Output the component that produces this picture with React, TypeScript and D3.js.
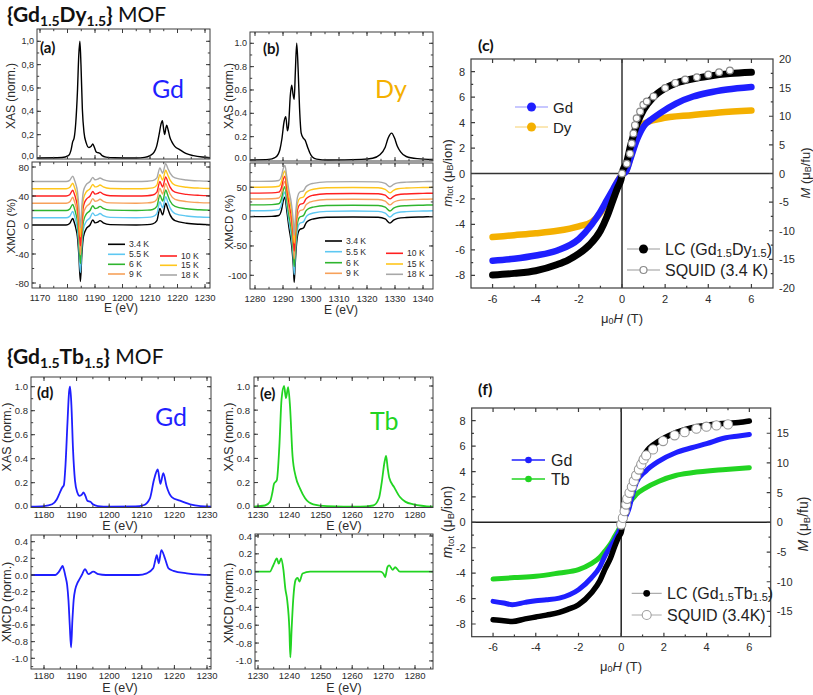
import React from "react";
import * as d3 from "d3";

const SANS = "'Liberation Sans', Arial, sans-serif";
const CAL = "Lato, 'Open Sans', sans-serif";
const INK = "#2b2b2b";

type P = [number, number];

// ---------------- data ----------------
const tempLabels = ["3.4 K", "5.5 K", "6 K", "9 K", "10 K", "15 K", "18 K"];
const tempColors = ["#000000", "#5ec8f2", "#2fb52f", "#f7a15a", "#ff2020", "#ffc61c", "#a8a8a8"];
const tempOffsets = [0, 10, 20, 30, 40, 50, 60];
const tempAmplitudes = [1, 0.97, 0.94, 0.91, 0.88, 0.85, 0.82];

// (a) Gd edge in {Gd1.5Dy1.5}
const gdDyXas: P[] = [[1167,0],[1178,0.004],[1180.3,0.02],[1181.3,0.07],[1181.9,0.14],[1182.4,0.17],[1183.0,0.3],[1183.6,0.56],[1184.1,0.88],[1184.5,1.0],[1184.9,0.8],[1185.4,0.42],[1186.0,0.22],[1186.8,0.13],[1187.8,0.09],[1188.6,0.1],[1189.2,0.12],[1189.8,0.09],[1190.5,0.05],[1191.2,0.045],[1191.8,0.04],[1192.6,0.02],[1194,0.008],[1197,0.002],[1205,0],[1208,0.005],[1210,0.02],[1211.5,0.05],[1212.4,0.1],[1213.3,0.2],[1214,0.29],[1214.5,0.32],[1215,0.24],[1215.3,0.2],[1215.8,0.26],[1216.1,0.28],[1216.6,0.24],[1217.2,0.18],[1217.9,0.14],[1219,0.1],[1220.9,0.07],[1223,0.04],[1225.8,0.02],[1229,0.008],[1232,0.003]];
const gdDyXmcd34K: P[] = [[1167,0],[1179.5,0],[1180.8,2],[1181.9,9],[1182.5,3],[1183.0,-4],[1183.6,-16],[1184.1,-40],[1184.7,-78],[1185.2,-42],[1185.8,-16],[1186.7,-6],[1188.2,0],[1189.2,7],[1190.0,3],[1191.0,4],[1191.8,6],[1193,3],[1195.5,0.5],[1205,0],[1209,0.5],[1211,1.5],[1212.5,6],[1213.6,23],[1214.2,17],[1214.6,14],[1215.7,30],[1216.5,22],[1217.3,14],[1219.1,6],[1223.3,2.5],[1228,1],[1232,0.5]];

// (b) Dy edge in {Gd1.5Dy1.5}
const dyXas: P[] = [[1277,0],[1285,0.005],[1287.1,0.02],[1288.3,0.05],[1288.9,0.09],[1289.6,0.18],[1290.4,0.33],[1291,0.37],[1291.6,0.25],[1292.0,0.3],[1292.6,0.55],[1293.1,0.64],[1293.6,0.56],[1294.0,0.52],[1294.4,0.75],[1294.9,1.0],[1295.4,0.78],[1295.9,0.45],[1296.5,0.23],[1297.2,0.19],[1297.9,0.17],[1298.8,0.11],[1299.6,0.06],[1300.5,0.025],[1302,0.008],[1306,0],[1318,0.005],[1322,0.015],[1324.6,0.045],[1326.5,0.11],[1327.6,0.19],[1328.8,0.23],[1329.8,0.19],[1330.8,0.12],[1332,0.07],[1334,0.03],[1338,0.012],[1344,0.005]];
const dyXmcd34K: P[] = [[1277,0],[1286,0.5],[1288.5,2],[1289.5,12],[1290.1,27],[1290.7,33],[1291.3,12],[1292.1,-18],[1293.1,-50],[1293.7,-85],[1294.0,-112],[1294.3,-86],[1294.7,-55],[1295.2,-32],[1296.0,-22],[1297.3,-19.5],[1298.2,-11],[1299.5,-6],[1300.8,-4],[1305.6,-1],[1315,-0.5],[1324,-1],[1326.5,-4],[1328.2,-11],[1329.5,-6],[1331,-3],[1334,-1.5],[1340,-0.5],[1344,0]];

// (d) Gd edge in {Gd1.5Tb1.5}
const gdTbXas: P[] = [[1175,0],[1180,0.005],[1182.5,0.02],[1183.9,0.06],[1184.9,0.12],[1185.6,0.16],[1186.1,0.18],[1186.6,0.35],[1187.2,0.7],[1187.7,0.96],[1188.0,1.0],[1188.4,0.85],[1188.9,0.48],[1189.5,0.22],[1190.2,0.12],[1190.9,0.09],[1191.6,0.1],[1192.1,0.12],[1192.7,0.09],[1193.3,0.05],[1194.3,0.04],[1195,0.02],[1196.5,0.005],[1200,0],[1208,0.002],[1210.5,0.012],[1212.5,0.07],[1213.7,0.22],[1214.9,0.31],[1215.7,0.19],[1216.6,0.28],[1217.6,0.17],[1219.2,0.08],[1221.7,0.05],[1224.8,0.02],[1228,0.005],[1232,0]];
const gdTbXmcd: P[] = [[1175,0],[1183.5,0],[1184.4,0.03],[1185.2,0.08],[1185.7,0.11],[1186.2,0.05],[1186.6,-0.02],[1187.1,-0.12],[1187.5,-0.3],[1187.9,-0.6],[1188.3,-0.87],[1188.7,-0.55],[1189.1,-0.3],[1189.6,-0.17],[1190.2,-0.1],[1190.9,-0.05],[1191.6,0.0],[1192.6,0.07],[1193.6,0.01],[1195.1,0.04],[1196.7,0.01],[1199,0],[1209,0],[1211.5,0.02],[1213.5,0.08],[1214.1,0.17],[1214.6,0.24],[1215.2,0.14],[1216.0,0.3],[1217.1,0.2],[1218.2,0.08],[1219.7,0.05],[1223.8,0.02],[1228,0.005],[1232,0]];

// (e) Tb edge in {Gd1.5Tb1.5}
const tbXas: P[] = [[1228,0],[1232.2,0.01],[1233.8,0.04],[1234.6,0.12],[1235.1,0.19],[1236.0,0.22],[1236.8,0.5],[1237.5,0.89],[1238.3,1.0],[1238.9,0.9],[1239.6,0.99],[1240.2,0.83],[1241.0,0.42],[1242.0,0.25],[1243.4,0.15],[1245.0,0.07],[1247.6,0.02],[1252,0.005],[1262.5,0],[1266.7,0.01],[1268.5,0.07],[1269.4,0.2],[1270.3,0.37],[1270.8,0.42],[1271.3,0.32],[1271.8,0.24],[1273.4,0.16],[1275.2,0.08],[1277,0.04],[1279.5,0.02],[1286,0]];
const tbXmcd: P[] = [[1228,0],[1233.8,0],[1234.6,0.05],[1235.1,0.09],[1236.0,0.15],[1236.6,0.09],[1237.4,0.15],[1238.1,0.02],[1238.7,-0.19],[1239.3,-0.32],[1240.0,-0.65],[1240.3,-0.96],[1240.7,-0.65],[1241.2,-0.32],[1242.0,-0.09],[1242.6,-0.07],[1243.2,-0.11],[1244.2,-0.02],[1246.6,0],[1268.9,0],[1269.9,-0.02],[1270.5,-0.06],[1271.2,0.05],[1271.8,0.07],[1272.9,0.02],[1273.7,0.05],[1275.2,0],[1286,0]];

// (c) magnetization {Gd1.5Dy1.5}
const cLC: P[] = [[-6,-7.98],[-5,-7.85],[-4,-7.64],[-3,-7.15],[-2.5,-6.8],[-2,-6.3],[-1.5,-5.6],[-1,-4.5],[-0.7,-3.4],[-0.4,-2.0],[-0.2,-1.1],[-0.05,-0.5],[0.05,0.3],[0.2,0.8],[0.4,2.2],[0.7,3.9],[1.0,5.0],[1.45,6.0],[2,6.7],[2.5,7.1],[3.3,7.45],[4,7.65],[5,7.85],[6,7.95]];
const cGd: P[] = [[-6,-6.85],[-5,-6.7],[-4,-6.45],[-3,-6.05],[-2,-5.15],[-1.4,-4.0],[-1,-3.0],[-0.7,-2.1],[-0.4,-1.2],[-0.2,-0.6],[0,-0.1],[0.2,0.2],[0.4,1.2],[0.68,2.6],[1.0,3.7],[1.4,4.3],[1.77,4.75],[2.5,5.5],[3.3,6.05],[4,6.35],[4.87,6.6],[6,6.8]];
const cDy: P[] = [[-6,-5.0],[-5,-4.85],[-4,-4.7],[-3,-4.5],[-2,-4.15],[-1.4,-3.8],[-1,-3.1],[-0.7,-2.2],[-0.4,-1.3],[-0.2,-0.6],[0,-0.1],[0.2,0.25],[0.4,1.3],[0.68,2.7],[1.0,3.9],[1.77,4.3],[3.3,4.6],[4.5,4.8],[6,4.95]];
const cSquid: P[] = [[0,0],[0.22,0.77],[0.37,1.56],[0.45,2.36],[0.53,3.15],[0.6,3.8],[0.68,4.34],[0.84,4.87],[0.99,5.4],[1.15,5.66],[1.46,6.06],[2.0,6.72],[2.47,7.12],[2.93,7.38],[3.47,7.56],[4.0,7.78],[4.5,7.96],[5.0,8.1]];

// (f) magnetization {Gd1.5Tb1.5}
const fLC: P[] = [[-6,-7.67],[-5.5,-7.75],[-5.1,-7.8],[-4.5,-7.6],[-4,-7.45],[-3.5,-7.3],[-2.9,-7.09],[-2.5,-6.85],[-2,-6.48],[-1.4,-5.56],[-1,-4.6],[-0.77,-3.72],[-0.5,-2.8],[-0.3,-1.88],[-0.1,-1.1],[0,-0.8],[0.1,0.1],[0.23,1.0],[0.4,2.5],[0.7,3.9],[1.15,5.5],[1.77,6.4],[2.55,7.06],[3.3,7.45],[4,7.65],[4.9,7.8],[5.5,7.85],[6,7.97]];
const fGd: P[] = [[-6,-6.22],[-5.5,-6.35],[-5.1,-6.48],[-4.5,-6.3],[-4,-6.17],[-3.5,-6.1],[-2.9,-5.96],[-2,-5.3],[-1.4,-4.38],[-1,-3.5],[-0.77,-2.67],[-0.5,-1.9],[-0.3,-1.36],[-0.1,-0.7],[0.1,0.1],[0.35,1.0],[0.5,2.0],[0.7,3.1],[1.15,4.03],[1.77,4.82],[2.55,5.48],[3.3,5.87],[4,6.2],[4.9,6.66],[5.5,6.8],[6,6.92]];
const fTb: P[] = [[-6,-4.46],[-5,-4.35],[-4,-4.25],[-2.9,-3.98],[-2,-3.72],[-1.4,-3.25],[-1,-2.75],[-0.77,-2.28],[-0.5,-1.7],[-0.3,-1.1],[-0.1,-0.5],[0.1,0.4],[0.4,1.54],[0.7,2.19],[1.15,2.72],[1.77,3.24],[2.55,3.69],[3.3,3.9],[4.9,4.16],[6,4.3]];
const fSquid: P[] = [[0.0,-0.17],[0.08,0.35],[0.16,0.88],[0.23,1.4],[0.28,1.85],[0.39,2.32],[0.5,2.8],[0.59,3.24],[0.7,3.69],[0.83,4.16],[0.94,4.56],[1.05,4.95],[1.17,5.27],[1.49,5.74],[1.96,6.4],[2.5,6.85],[2.97,7.1],[3.52,7.37],[3.99,7.53],[4.46,7.63],[5.0,7.71]];

// ---------------- helpers ----------------
type Box = { l: number; r: number; t: number; b: number };

function steps(a: number, b: number, step: number) {
  const lo = Math.min(a, b), hi = Math.max(a, b);
  const out: number[] = [];
  for (let k = Math.ceil(lo / step - 1e-6); k * step <= hi + 1e-6; k++) out.push(+(k * step).toFixed(6));
  return out;
}
const clean = (v: number) => (Math.abs(v) < 1e-9 ? 0 : v);

function Frame(p: any) {
  const { box, xs, ys, xMaj, xMin, yMaj, yMin, xLab = false, yLab = true, fmtX = (v: number) => String(v),
    fmtY = (v: number) => String(clean(v)), fs = 10, tl = 4, ys2, y2Maj, y2Min, fmtY2 = (v: number) => String(clean(v)),
    xDy = 10, yDx = 4, sw = 1, edgeNudge = 0 } = p;
  const xd = [xs.invert(box.l), xs.invert(box.r)];
  const yd = [ys.invert(box.b), ys.invert(box.t)];
  const inside = (v: number, a: number, b: number) => v > a + 0.8 && v < b - 0.8;
  let d = "";
  const xt = (vals: number[], len: number) => vals.forEach((v) => {
    const X = xs(v); if (!inside(X, box.l, box.r)) return;
    d += `M${X},${box.b}v${-len}M${X},${box.t}v${len}`;
  });
  xt(steps(xd[0], xd[1], xMin), tl * 0.55); xt(steps(xd[0], xd[1], xMaj), tl);
  const yt = (sc: any, vals: number[], len: number, left: boolean, right: boolean) => vals.forEach((v) => {
    const Y = sc(v); if (!inside(Y, box.t, box.b)) return;
    if (left) d += `M${box.l},${Y}h${len}`;
    if (right) d += `M${box.r},${Y}h${-len}`;
  });
  yt(ys, steps(yd[0], yd[1], yMin), tl * 0.55, true, !ys2);
  yt(ys, steps(yd[0], yd[1], yMaj), tl, true, !ys2);
  let y2d: number[] = [];
  if (ys2) {
    y2d = [ys2.invert(box.b), ys2.invert(box.t)];
    yt(ys2, steps(y2d[0], y2d[1], y2Min), tl * 0.55, false, true);
    yt(ys2, steps(y2d[0], y2d[1], y2Maj), tl, false, true);
  }
  const yVals = yLab ? steps(yd[0], yd[1], yMaj).filter((v) => ys(v) >= box.t - 1 && ys(v) <= box.b + 1) : [];
  return (
    <g>
      <rect x={box.l} y={box.t} width={box.r - box.l} height={box.b - box.t} fill="none" stroke="#3c3c3c" strokeWidth={sw} />
      <path d={d} stroke="#3c3c3c" strokeWidth={sw} fill="none" />
      {xLab && steps(xd[0], xd[1], xMaj).filter((v) => xs(v) >= box.l - 1 && xs(v) <= box.r + 1).map((v) => (
        <text key={"x" + v} x={xs(v)} y={box.b + xDy} textAnchor="middle" dominantBaseline="central" fontFamily={SANS} fontSize={fs} fill={INK}>{fmtX(v)}</text>
      ))}
      {yVals.map((v) => {
        const Y = ys(v);
        const nudge = Y > box.b - 3 ? -edgeNudge : 0;
        return (
          <text key={"y" + v} x={box.l - yDx} y={Y + nudge} textAnchor="end" dominantBaseline="central" fontFamily={SANS} fontSize={fs} fill={INK}>{fmtY(v)}</text>
        );
      })}
      {ys2 && steps(y2d[0], y2d[1], y2Maj).filter((v) => ys2(v) >= box.t - 1 && ys2(v) <= box.b + 1).map((v) => (
        <text key={"r" + v} x={box.r + yDx} y={ys2(v)} textAnchor="start" dominantBaseline="central" fontFamily={SANS} fontSize={fs} fill={INK}>{fmtY2(v)}</text>
      ))}
    </g>
  );
}

function lineOf(data: P[], xs: any, ys: any) {
  return d3.line<P>().x((d) => xs(d[0])).y((d) => ys(d[1])).curve(d3.curveMonotoneX)(data) ?? "";
}

function Clip({ id, box }: { id: string; box: Box }) {
  return (
    <clipPath id={id}>
      <rect x={box.l} y={box.t} width={box.r - box.l} height={box.b - box.t} />
    </clipPath>
  );
}

function VLabel({ x, y, children, fs = 12 }: any) {
  return (
    <text transform={`translate(${x},${y}) rotate(-90)`} textAnchor="middle" dominantBaseline="central" fontFamily={SANS} fontSize={fs} fill={INK}>
      {children}
    </text>
  );
}

function Title({ y, second }: { y: number; second: string }) {
  return (
    <text x={7} y={y} fontFamily={CAL} fontSize={21} fill="#111">
      <tspan fontWeight="bold">{"{Gd"}</tspan>
      <tspan fontWeight="bold" fontSize={14} dy={4}>1.5</tspan>
      <tspan fontWeight="bold" dy={-4}>{second}</tspan>
      <tspan fontWeight="bold" fontSize={14} dy={4}>1.5</tspan>
      <tspan fontWeight="bold" dy={-4}>{"}"}</tspan>
      <tspan> MOF</tspan>
    </text>
  );
}

function TempLegend({ col1, col2, ys1, ys2 }: any) {
  return (
    <g fontFamily={SANS} fontSize={8.6} fill={INK}>
      {tempLabels.map((lab, i) => {
        const c = i < 4 ? col1 : col2;
        const y = i < 4 ? ys1[i] : ys2[i - 4];
        return (
          <g key={lab}>
            <line x1={c[0]} x2={c[1]} y1={y} y2={y} stroke={tempColors[i]} strokeWidth={1.6} />
            <text x={c[1] + 4} y={y} dominantBaseline="central">{lab}</text>
          </g>
        );
      })}
    </g>
  );
}

export default function App() {
  // scales (anchored on the tick positions of the reference axes)
  const aX = d3.scaleLinear().domain([1170, 1230]).range([40, 205]);
  const aYx = d3.scaleLinear().domain([0, 1]).range([158, 41.3]);
  const aYm = d3.scaleLinear().domain([-80, 80]).range([283, 167]);
  const bX = d3.scaleLinear().domain([1280, 1340]).range([255, 423]);
  const bYx = d3.scaleLinear().domain([0, 1]).range([160, 43.3]);
  const bYm = d3.scaleLinear().domain([-100, 50]).range([275.3, 187.3]);
  const dX = d3.scaleLinear().domain([1180, 1230]).range([44, 207]);
  const dYx = d3.scaleLinear().domain([0, 1]).range([506.7, 386.7]);
  const dYm = d3.scaleLinear().domain([-1, 0.4]).range([658.3, 541.7]);
  const eX = d3.scaleLinear().domain([1230, 1280]).range([258, 415]);
  const eYx = d3.scaleLinear().domain([0, 1]).range([506.7, 386]);
  const eYm = d3.scaleLinear().domain([-1, 0.4]).range([660.9, 536]);
  const cX = d3.scaleLinear().domain([-7, 7]).range([471, 773]);
  const cY = d3.scaleLinear().domain([-9, 9]).range([288, 59]);
  const cY2 = d3.scaleLinear().domain([-20, 20]).range([288, 59]);
  const fX = d3.scaleLinear().domain([-7, 7]).range([471.7, 770.7]);
  const fY = d3.scaleLinear().domain([-9, 9]).range([636.7, 408]);
  const fY2 = d3.scaleLinear().domain([-19.25, 19.25]).range([636.7, 408]);

  const aXasBox: Box = { l: 37, r: 210, t: 29, b: 159 };
  const aMcdBox: Box = { l: 32, r: 210, t: 162, b: 288 };
  const bXasBox: Box = { l: 250, r: 433, t: 32, b: 161 };
  const bMcdBox: Box = { l: 250, r: 433, t: 163, b: 289 };
  const dXasBox: Box = { l: 31, r: 211, t: 377, b: 507.5 };
  const dMcdBox: Box = { l: 31, r: 211, t: 535, b: 669 };
  const eXasBox: Box = { l: 254, r: 433, t: 377, b: 507.5 };
  const eMcdBox: Box = { l: 255, r: 433, t: 534, b: 669 };
  const cBox: Box = { l: 471, r: 773, t: 59, b: 288 };
  const fBox: Box = { l: 471.7, r: 770.7, t: 408, b: 636.7 };

  const gdSeries = tempLabels.map((_, i) => gdDyXmcd34K.map(([e, v]) => [e, v * tempAmplitudes[i] + tempOffsets[i]] as P));
  const dySeries = tempLabels.map((_, i) => dyXmcd34K.map(([e, v]) => [e, v * tempAmplitudes[i] + tempOffsets[i]] as P));

  const comma = (v: number) => clean(v).toFixed(1).replace(".", ",");
  const dot1 = (v: number) => clean(v).toFixed(1);

  const BLUE = "#1f1fff";
  const ORANGE = "#f4b000";
  const GREEN = "#22d422";

  return (
    <svg width={813} height={695} style={{ position: "absolute", left: 0, top: 0 }} xmlns="http://www.w3.org/2000/svg">
      <rect width={813} height={695} fill="#fff" />
      <defs>
        <Clip id="cAx" box={aXasBox} /><Clip id="cAm" box={aMcdBox} />
        <Clip id="cBx" box={bXasBox} /><Clip id="cBm" box={bMcdBox} />
        <Clip id="cDx" box={dXasBox} /><Clip id="cDm" box={dMcdBox} />
        <Clip id="cEx" box={eXasBox} /><Clip id="cEm" box={eMcdBox} />
        <Clip id="cC" box={cBox} /><Clip id="cF" box={fBox} />
      </defs>

      <Title y={22} second="Dy" />
      <Title y={364} second="Tb" />

      {/* ---------- (a) ---------- */}
      <g clipPath="url(#cAx)">
        <path d={lineOf(gdDyXas, aX, aYx)} fill="none" stroke="#000" strokeWidth={1.4} />
      </g>
      <Frame box={aXasBox} xs={aX} ys={aYx} xMaj={10} xMin={5} yMaj={0.2} yMin={0.1} fmtY={comma} fs={9} yDx={3} edgeNudge={2} />
      <g clipPath="url(#cAm)">
        {gdSeries.map((s, i) => (
          <path key={i} d={lineOf(s, aX, aYm)} fill="none" stroke={tempColors[i]} strokeWidth={1.4} />
        ))}
      </g>
      <Frame box={aMcdBox} xs={aX} ys={aYm} xMaj={10} xMin={5} yMaj={40} yMin={20} xLab fs={9.5} xDy={9} yDx={3} />
      <TempLegend col1={[108, 125]} col2={[160, 177]} ys1={[244.3, 254.3, 264.3, 274]} ys2={[256, 265.3, 275]} />
      <text x={40} y={47} fontFamily={CAL} fontWeight="bold" fontSize={15} dominantBaseline="central" fill="#111">(a)</text>
      <text x={152} y={88} fontFamily={CAL} fontSize={25} dominantBaseline="central" fill={BLUE}>Gd</text>
      <VLabel x={11} y={96} fs={12}>XAS (norm.)</VLabel>
      <VLabel x={11} y={226} fs={11.5}>XMCD (%)</VLabel>
      <text x={121} y={308} textAnchor="middle" dominantBaseline="central" fontFamily={SANS} fontSize={12} fill={INK}>E (eV)</text>

      {/* ---------- (b) ---------- */}
      <g clipPath="url(#cBx)">
        <path d={lineOf(dyXas, bX, bYx)} fill="none" stroke="#000" strokeWidth={1.4} />
      </g>
      <Frame box={bXasBox} xs={bX} ys={bYx} xMaj={10} xMin={5} yMaj={0.2} yMin={0.1} fmtY={dot1} fs={9} yDx={3} edgeNudge={2} />
      <g clipPath="url(#cBm)">
        {dySeries.map((s, i) => (
          <path key={i} d={lineOf(s, bX, bYm)} fill="none" stroke={tempColors[i]} strokeWidth={1.4} />
        ))}
      </g>
      <Frame box={bMcdBox} xs={bX} ys={bYm} xMaj={10} xMin={5} yMaj={50} yMin={25} xLab fs={9.5} xDy={9} yDx={3} />
      <TempLegend col1={[325, 342]} col2={[386, 403]} ys1={[241, 251.7, 262.7, 273.3]} ys2={[253.3, 264, 274.3]} />
      <text x={263} y={48} fontFamily={CAL} fontWeight="bold" fontSize={15} dominantBaseline="central" fill="#111">(b)</text>
      <text x={375} y={88} fontFamily={CAL} fontSize={25} dominantBaseline="central" fill={ORANGE}>Dy</text>
      <VLabel x={229} y={96} fs={12}>XAS (norm.)</VLabel>
      <VLabel x={229} y={222} fs={11.5}>XMCD (%)</VLabel>
      <text x={341} y={310} textAnchor="middle" dominantBaseline="central" fontFamily={SANS} fontSize={12} fill={INK}>E (eV)</text>

      {/* ---------- (d) ---------- */}
      <g clipPath="url(#cDx)">
        <path d={lineOf(gdTbXas, dX, dYx)} fill="none" stroke={BLUE} strokeWidth={1.8} />
      </g>
      <Frame box={dXasBox} xs={dX} ys={dYx} xMaj={10} xMin={5} yMaj={0.2} yMin={0.1} fmtY={dot1} xLab fs={9.5} xDy={7} yDx={3} edgeNudge={1.5} />
      <g clipPath="url(#cDm)">
        <path d={lineOf(gdTbXmcd, dX, dYm)} fill="none" stroke={BLUE} strokeWidth={1.8} />
      </g>
      <Frame box={dMcdBox} xs={dX} ys={dYm} xMaj={10} xMin={5} yMaj={0.2} yMin={0.1} fmtY={dot1} xLab fs={9.5} xDy={6} yDx={3} />
      <text x={37} y={392} fontFamily={CAL} fontWeight="bold" fontSize={15} dominantBaseline="central" fill="#111">(d)</text>
      <text x={155} y={416} fontFamily={CAL} fontSize={25} dominantBaseline="central" fill={BLUE}>Gd</text>
      <VLabel x={7} y={437} fs={12.5}>XAS (norm.)</VLabel>
      <VLabel x={7} y={602} fs={12.5}>XMCD (norm.)</VLabel>
      <text x={120} y={526} textAnchor="middle" dominantBaseline="central" fontFamily={SANS} fontSize={12.5} fill={INK}>E (eV)</text>
      <text x={120} y={687.5} textAnchor="middle" dominantBaseline="central" fontFamily={SANS} fontSize={12.5} fill={INK}>E (eV)</text>

      {/* ---------- (e) ---------- */}
      <g clipPath="url(#cEx)">
        <path d={lineOf(tbXas, eX, eYx)} fill="none" stroke={GREEN} strokeWidth={1.8} />
      </g>
      <Frame box={eXasBox} xs={eX} ys={eYx} xMaj={10} xMin={5} yMaj={0.2} yMin={0.1} fmtY={dot1} xLab fs={9.5} xDy={7} yDx={4} edgeNudge={1.5} />
      <g clipPath="url(#cEm)">
        <path d={lineOf(tbXmcd, eX, eYm)} fill="none" stroke={GREEN} strokeWidth={1.8} />
      </g>
      <Frame box={eMcdBox} xs={eX} ys={eYm} xMaj={10} xMin={5} yMaj={0.2} yMin={0.1} fmtY={dot1} xLab fs={9.5} xDy={6} yDx={3} />
      <text x={260} y={393} fontFamily={CAL} fontWeight="bold" fontSize={15} dominantBaseline="central" fill="#111">(e)</text>
      <text x={370} y={420} fontFamily={CAL} fontSize={25} dominantBaseline="central" fill={GREEN}>Tb</text>
      <VLabel x={229} y={437} fs={12.5}>XAS (norm.)</VLabel>
      <VLabel x={229} y={603} fs={12.5}>XMCD (norm.)</VLabel>
      <text x={344} y={526} textAnchor="middle" dominantBaseline="central" fontFamily={SANS} fontSize={12.5} fill={INK}>E (eV)</text>
      <text x={344} y={687.5} textAnchor="middle" dominantBaseline="central" fontFamily={SANS} fontSize={12.5} fill={INK}>E (eV)</text>

      {/* ---------- (c) ---------- */}
      <g clipPath="url(#cC)">
        <line x1={cX(0)} x2={cX(0)} y1={cBox.t} y2={cBox.b} stroke="#333" strokeWidth={1.5} />
        <line x1={cBox.l} x2={cBox.r} y1={cY(0)} y2={cY(0)} stroke="#333" strokeWidth={1.5} />
        <path d={lineOf(cDy, cX, cY)} fill="none" stroke={ORANGE} strokeWidth={6.5} strokeLinecap="round" strokeLinejoin="round" />
        <path d={lineOf(cGd, cX, cY)} fill="none" stroke={BLUE} strokeWidth={6.5} strokeLinecap="round" strokeLinejoin="round" />
        <path d={lineOf(cLC, cX, cY)} fill="none" stroke="#000" strokeWidth={7} strokeLinecap="round" strokeLinejoin="round" />
        {cSquid.map((d, i) => (
          <circle key={i} cx={cX(d[0])} cy={cY(d[1])} r={3.4} fill="#fff" stroke="#8a8a8a" strokeWidth={1.2} />
        ))}
      </g>
      <Frame box={cBox} xs={cX} ys={cY} xMaj={2} xMin={1} yMaj={2} yMin={1} xLab fs={11} xDy={11} yDx={6}
        ys2={cY2} y2Maj={5} y2Min={2.5} sw={1.2} />
      <text x={478} y={44} fontFamily={CAL} fontWeight="bold" fontSize={16} dominantBaseline="central" fill="#111">(c)</text>
      <g fontFamily={SANS} fill="#222">
        <line x1={515} x2={548} y1={107} y2={107} stroke="#8f8fff" strokeWidth={1} />
        <circle cx={531.5} cy={107} r={4.5} fill={BLUE} />
        <text x={553} y={107} fontSize={15} dominantBaseline="central">Gd</text>
        <line x1={515} x2={548} y1={127} y2={127} stroke="#f6cf6a" strokeWidth={1} />
        <circle cx={531.5} cy={127} r={4.5} fill={ORANGE} />
        <text x={553} y={127} fontSize={15} dominantBaseline="central">Dy</text>

        <line x1={627} x2={660} y1={249} y2={249} stroke="#999" strokeWidth={1} />
        <circle cx={643.5} cy={249} r={4.5} fill="#000" />
        <text x={665} y={249} fontSize={16} dominantBaseline="central">
          LC (Gd<tspan fontSize={11} dy={4}>1.5</tspan><tspan dy={-4}>Dy</tspan><tspan fontSize={11} dy={4}>1.5</tspan><tspan dy={-4}>)</tspan>
        </text>
        <line x1={627} x2={660} y1={270} y2={270} stroke="#999" strokeWidth={1} />
        <circle cx={643.5} cy={270} r={3.5} fill="#fff" stroke="#8a8a8a" strokeWidth={1.2} />
        <text x={665} y={270} fontSize={16} dominantBaseline="central">SQUID (3.4 K)</text>
      </g>
      <text transform={`translate(447,173) rotate(-90)`} textAnchor="middle" dominantBaseline="central" fontFamily={SANS} fontSize={13} fill={INK}>
        <tspan fontStyle="italic">m</tspan><tspan fontSize={9} dy={3}>tot</tspan><tspan dy={-3}> (μ</tspan><tspan fontSize={9} dy={3}>B</tspan><tspan dy={-3}>/ion)</tspan>
      </text>
      <text transform={`translate(805,173) rotate(-90)`} textAnchor="middle" dominantBaseline="central" fontFamily={SANS} fontSize={13} fill={INK}>
        <tspan fontStyle="italic">M</tspan><tspan> (μ</tspan><tspan fontSize={9} dy={3}>B</tspan><tspan dy={-3}>/fu)</tspan>
      </text>
      <text x={622} y={318} textAnchor="middle" dominantBaseline="central" fontFamily={SANS} fontSize={13} fill={INK}>
        μ<tspan fontSize={9} dy={3}>0</tspan><tspan dy={-3} fontStyle="italic">H</tspan><tspan> (T)</tspan>
      </text>

      {/* ---------- (f) ---------- */}
      <g clipPath="url(#cF)">
        <line x1={fX(0)} x2={fX(0)} y1={fBox.t} y2={fBox.b} stroke="#222" strokeWidth={1.5} />
        <line x1={fBox.l} x2={fBox.r} y1={fY(0)} y2={fY(0)} stroke="#222" strokeWidth={1.5} />
        <path d={lineOf(fTb, fX, fY)} fill="none" stroke={GREEN} strokeWidth={5} strokeLinecap="round" strokeLinejoin="round" />
        <path d={lineOf(fGd, fX, fY)} fill="none" stroke={BLUE} strokeWidth={5} strokeLinecap="round" strokeLinejoin="round" />
        <path d={lineOf(fLC, fX, fY)} fill="none" stroke="#000" strokeWidth={5.5} strokeLinecap="round" strokeLinejoin="round" />
        {fSquid.map((d, i) => (
          <circle key={i} cx={fX(d[0])} cy={fY(d[1])} r={4.6} fill="#fff" stroke="#9a9a9a" strokeWidth={1.1} />
        ))}
      </g>
      <Frame box={fBox} xs={fX} ys={fY} xMaj={2} xMin={1} yMaj={2} yMin={1} xLab fs={11} xDy={10} yDx={6}
        ys2={fY2} y2Maj={5} y2Min={2.5} sw={1.2} />
      <text x={478} y={388} fontFamily={CAL} fontWeight="bold" fontSize={16} dominantBaseline="central" fill="#111">(f)</text>
      <g fontFamily={SANS} fill="#222">
        <line x1={511.7} x2={545} y1={460} y2={460} stroke={BLUE} strokeWidth={1.3} />
        <circle cx={528.5} cy={460} r={3.3} fill={BLUE} />
        <text x={551} y={460} fontSize={16} dominantBaseline="central">Gd</text>
        <line x1={511.7} x2={545} y1={479} y2={479} stroke={GREEN} strokeWidth={1.3} />
        <circle cx={528.5} cy={479} r={3.3} fill={GREEN} />
        <text x={551} y={479} fontSize={16} dominantBaseline="central">Tb</text>

        <line x1={631.7} x2={661.7} y1={593.3} y2={593.3} stroke="#999" strokeWidth={1} />
        <circle cx={646.7} cy={593.3} r={3.4} fill="#000" />
        <text x={667} y={593.3} fontSize={16} dominantBaseline="central">
          LC (Gd<tspan fontSize={11} dy={4}>1.5</tspan><tspan dy={-4}>Tb</tspan><tspan fontSize={11} dy={4}>1.5</tspan><tspan dy={-4}>)</tspan>
        </text>
        <line x1={631.7} x2={661.7} y1={615} y2={615} stroke="#aaa" strokeWidth={1} />
        <circle cx={646.7} cy={615} r={4.5} fill="#fff" stroke="#a0a0a0" strokeWidth={1.1} />
        <text x={667} y={615} fontSize={16} dominantBaseline="central">SQUID (3.4K)</text>
      </g>
      <text transform={`translate(447,522) rotate(-90)`} textAnchor="middle" dominantBaseline="central" fontFamily={SANS} fontSize={14} fill={INK}>
        <tspan fontStyle="italic">m</tspan><tspan fontSize={9.5} dy={3}>tot</tspan><tspan dy={-3}> (μ</tspan><tspan fontSize={9.5} dy={3}>B</tspan><tspan dy={-3}>/ion)</tspan>
      </text>
      <text transform={`translate(803,524) rotate(-90)`} textAnchor="middle" dominantBaseline="central" fontFamily={SANS} fontSize={14} fill={INK}>
        <tspan fontStyle="italic">M</tspan><tspan> (μ</tspan><tspan fontSize={9.5} dy={3}>B</tspan><tspan dy={-3}>/fu)</tspan>
      </text>
      <text x={621} y={666} textAnchor="middle" dominantBaseline="central" fontFamily={SANS} fontSize={13} fill={INK}>
        μ<tspan fontSize={9} dy={3}>0</tspan><tspan dy={-3} fontStyle="italic">H</tspan><tspan> (T)</tspan>
      </text>
    </svg>
  );
}
